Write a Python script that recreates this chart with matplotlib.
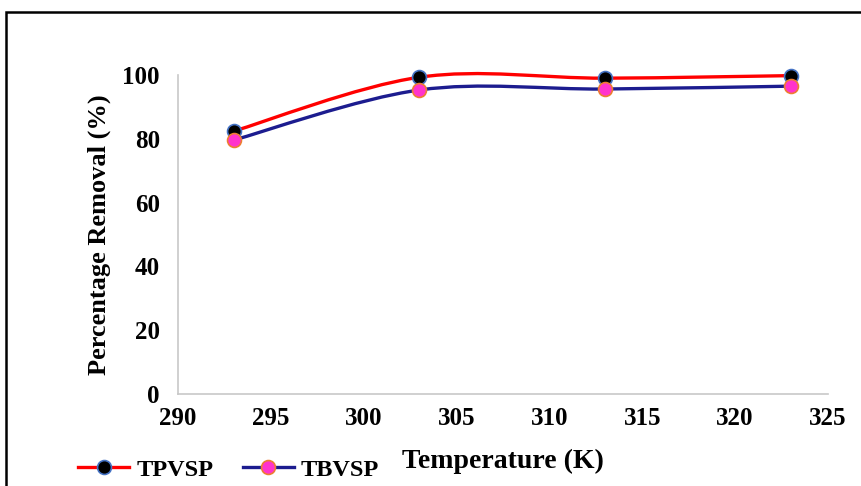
import matplotlib
matplotlib.use("Agg")
import matplotlib.pyplot as plt
import numpy as np
from matplotlib.path import Path
from matplotlib.patches import PathPatch, Rectangle
from matplotlib.lines import Line2D

temperature = [293, 303, 313, 323]
tpvsp = [82.4, 99.3, 99.0, 99.8]
tbvsp = [79.6, 95.3, 95.6, 96.5]

plt.rcParams["font.family"] = ["Liberation Serif", "DejaVu Serif"]
plt.rcParams["font.weight"] = "bold"


def smooth_path(x, y):
    # Excel-style smoothed line: cubic Bezier through every point
    pts = np.column_stack([x, y]).astype(float)
    n = len(pts)
    verts = [pts[0]]
    codes = [Path.MOVETO]
    for i in range(n - 1):
        p0 = pts[max(i - 1, 0)]
        p1 = pts[i]
        p2 = pts[i + 1]
        p3 = pts[min(i + 2, n - 1)]
        c1 = p1 + (p2 - p0) / 6.0
        c2 = p2 - (p3 - p1) / 6.0
        verts += [c1, c2, p2]
        codes += [Path.CURVE4] * 3
    return Path(verts, codes)


fig = plt.figure(figsize=(8.61, 4.86), dpi=100)
ax = fig.add_axes([0.2067, 0.1893, 0.755, 0.6564])

series = [
    ("TPVSP", tpvsp, "#FF0000", "black", "#4472C4"),
    ("TBVSP", tbvsp, "#1C1C8F", "#FF33CC", "#ED7D31"),
]
handles = []
for name, vals, lc, fc, ec in series:
    ax.add_patch(PathPatch(smooth_path(temperature, vals), facecolor="none",
                           edgecolor=lc, lw=2.4, zorder=2, clip_on=False))
for name, vals, lc, fc, ec in series:
    ax.plot(temperature, vals, ls="none", marker="o", ms=10, mfc=fc, mec=ec,
            mew=1.2, zorder=3, clip_on=False)
    handles.append(Line2D([], [], color=lc, lw=2.4, marker="o", ms=10,
                          mfc=fc, mec=ec, mew=1.2))

ax.set_xlim(290, 325)
ax.set_ylim(0, 100)
ax.set_xticks(range(290, 330, 5))
ax.set_yticks(range(0, 120, 20))
for s in ["top", "right"]:
    ax.spines[s].set_visible(False)
for s in ["left", "bottom"]:
    ax.spines[s].set_color("#C8C8C8")
    ax.spines[s].set_linewidth(1.2)
ax.tick_params(length=0, labelsize=18)
ax.tick_params(axis="x", pad=9)
ax.tick_params(axis="y", pad=13)
for lab in ax.get_xticklabels() + ax.get_yticklabels():
    lab.set_fontweight("bold")

ax.set_xlabel("Temperature (K)", fontsize=20, fontweight="bold", labelpad=14)
ax.set_ylabel("Percentage Removal (%)", fontsize=19, fontweight="bold", labelpad=8)

fig.legend(handles, ["TPVSP", "TBVSP"], loc="center left",
           bbox_to_anchor=(0.0906, 0.033), ncol=2, frameon=False,
           prop={"family": "Liberation Serif", "weight": "bold", "size": 17.5},
           handlelength=2.1, columnspacing=1.2, handletextpad=0.3,
           borderpad=0, borderaxespad=0)

fig.add_artist(Rectangle((6 / 861, -0.2), 1.2, 1.2 - 12 / 486,
                         transform=fig.transFigure, fill=False,
                         edgecolor="black", lw=1.8))

fig.savefig("out.png", dpi=100)
